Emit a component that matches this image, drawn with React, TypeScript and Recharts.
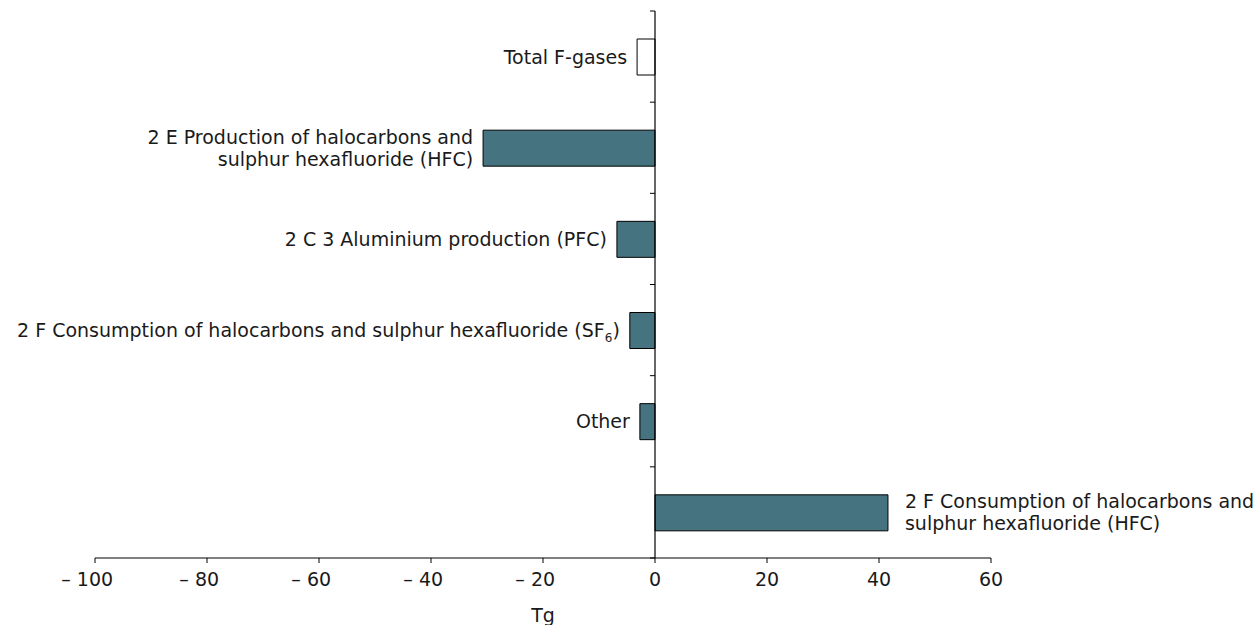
import React from 'react';
import { BarChart, Bar, XAxis, YAxis, ReferenceLine, LabelList, Cell } from 'recharts';

const categories = [
  'Total F-gases',
  '2 E Production of halocarbons and sulphur hexafluoride (HFC)',
  '2 C 3 Aluminium production (PFC)',
  '2 F Consumption of halocarbons and sulphur hexafluoride (SF6)',
  'Other',
  '2 F Consumption of halocarbons and sulphur hexafluoride (HFC)',
];
const values = [-3.2, -30.7, -6.8, -4.5, -2.7, 41.6];
const labelLines = [
  ['Total F-gases'],
  ['2 E Production of halocarbons and', 'sulphur hexafluoride (HFC)'],
  ['2 C 3 Aluminium production (PFC)'],
  ['2 F Consumption of halocarbons and sulphur hexafluoride (SF_6)'],
  ['Other'],
  ['2 F Consumption of halocarbons and', 'sulphur hexafluoride (HFC)'],
];
const fills = ['#ffffff', '#45737f', '#45737f', '#45737f', '#45737f', '#45737f'];
const xTicks = [-100, -80, -60, -40, -20, 0, 20, 40, 60];
const boundaryTicks = [0, 1, 2, 3, 4, 5, 6];
const axisTitle = 'Tg';

const FONT = '"DejaVu Sans", Verdana, sans-serif';
const FS = 19;
const TEXT = '#1a1a1a';

const data = categories.map((name, i) => ({
  name,
  value: values[i],
  idx: i,
  pos: categories.length - 0.5 - i,
}));

const fmt = (v: number) => (v < 0 ? `\u2013 ${Math.abs(v)}` : `${v}`);

// digits centred on the tick, the minus sign hanging to the left
const XTick = (props: any) => {
  const { x, y, payload } = props;
  const v = Number(payload.value);
  const digits = String(Math.abs(v));
  const half = digits.length * 0.318 * FS;
  return (
    <text
      x={x + half}
      y={y}
      dy="0.71em"
      textAnchor="end"
      fontSize={FS}
      fill={TEXT}
      fontFamily={FONT}
    >
      {fmt(v)}
    </text>
  );
};

const renderLine = (line: string) => {
  const m = line.indexOf('_');
  if (m < 0) return line;
  const before = line.slice(0, m);
  const sub = line.slice(m + 1, m + 2);
  const after = line.slice(m + 2);
  return (
    <>
      {before}
      <tspan dy={5} fontSize={12}>{sub}</tspan>
      <tspan dy={-5}>{after}</tspan>
    </>
  );
};

const BarLabel = (props: any) => {
  const { x, y, width, height, value } = props;
  const i = Number(value);
  const lines = labelLines[i];
  const v = values[i];
  const left = Math.min(x, x + width);
  const right = Math.max(x, x + width);
  const cy = y + height / 2;
  const neg = v < 0;
  const tx = neg ? left - 10 : right + 17;
  const lh = 22;
  const y0 = cy - ((lines.length - 1) * lh) / 2;
  return (
    <text textAnchor={neg ? 'end' : 'start'} fontSize={FS} fill={TEXT} fontFamily={FONT}>
      {lines.map((l, k) => (
        <tspan key={k} x={tx} y={y0 + k * lh} dy="0.35em">
          {renderLine(l)}
        </tspan>
      ))}
    </text>
  );
};

export default function App() {
  return (
    <div style={{ position: 'absolute', left: 0, top: 0, background: '#fff' }}>
      <BarChart
        layout="vertical"
        width={1259}
        height={625}
        data={data}
        margin={{ top: 11, right: 268, bottom: 0, left: 95 }}
        style={{ fontFamily: FONT }}
      >
        <XAxis
          type="number"
          domain={[-100, 60]}
          ticks={xTicks}
          interval={0}
          tickSize={5}
          tickMargin={10}
          height={67}
          axisLine={{ stroke: '#000' }}
          tickLine={{ stroke: '#000' }}
          tick={<XTick />}
          label={{ value: axisTitle, position: 'insideBottom', offset: 3, fill: TEXT, fontSize: FS, fontFamily: FONT }}
        />
        <YAxis type="category" dataKey="name" hide />
        <YAxis yAxisId="b" type="number" dataKey="pos" domain={[0, 6]} allowDataOverflow hide />
        <Bar dataKey="value" barSize={36} stroke="#000" strokeWidth={1} isAnimationActive={false}>
          {data.map((d, i) => (
            <Cell key={i} fill={fills[i]} />
          ))}
          <LabelList dataKey="idx" content={BarLabel} />
        </Bar>
        <ReferenceLine x={0} stroke="#000" strokeWidth={1.2} />
        {boundaryTicks.map((k) => (
          <ReferenceLine
            key={k}
            yAxisId="b"
            segment={[{ x: -0.9, y: k }, { x: 0, y: k }]}
            stroke="#000"
            strokeWidth={1}
          />
        ))}
      </BarChart>
    </div>
  );
}
